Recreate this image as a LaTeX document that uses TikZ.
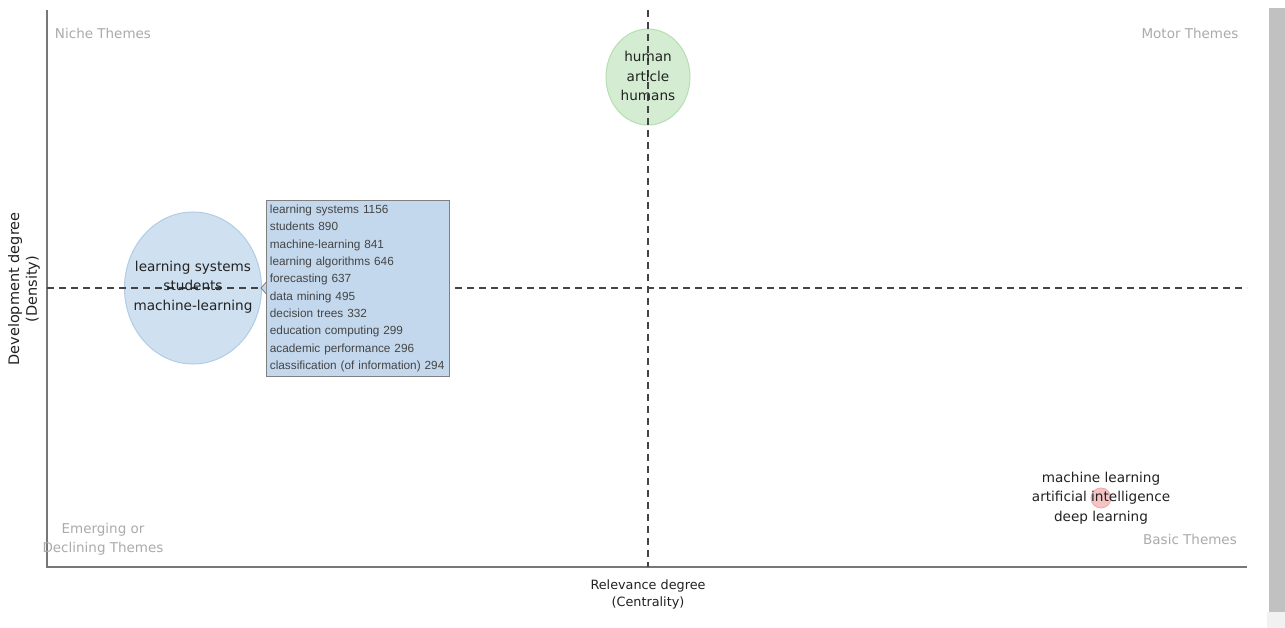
\documentclass[tikz,border=0pt]{standalone}
\usepackage{fontspec}
\usetikzlibrary{shapes.geometric}
\setmainfont{DejaVu Sans}
\newfontfamily\tipfont{Liberation Sans}
\definecolor{axisgray}{HTML}{777777}
\definecolor{dashgray}{HTML}{444444}
\definecolor{quadgray}{HTML}{ABABAB}
\definecolor{labelink}{HTML}{222222}
\definecolor{greenfill}{HTML}{D4EDD2}
\definecolor{greenline}{HTML}{B6DEB1}
\definecolor{bluefill}{HTML}{CFE0F0}
\definecolor{blueline}{HTML}{B1CCE4}
\definecolor{tipfill}{HTML}{C4D8ED}
\definecolor{tipline}{HTML}{808080}
\definecolor{tipink}{HTML}{444444}
\definecolor{redfill}{HTML}{F4C3C3}
\definecolor{redline}{HTML}{EFA9A9}
\definecolor{scrollbar}{HTML}{C1C1C1}
\definecolor{scrolltrack}{HTML}{F1F1F1}
\tikzset{
  axisline/.style={draw=axisgray, line width=1.4pt},
  quadline/.style={draw=dashgray, line width=1.4pt, dash pattern=on 7pt off 5pt},
  quadlabel/.style={text=quadgray, font=\fontsize{13.5}{19}\selectfont, align=center, inner sep=0pt},
  clusterlabel/.style={text=labelink, font=\fontsize{13.6}{19.5}\selectfont, align=center, inner sep=0pt},
  axislabel/.style={text=labelink, font=\fontsize{12.8}{17}\selectfont, align=center, inner sep=0pt},
  tipbox/.style={fill=tipfill, draw=tipline, line width=0.8pt, text=tipink,
    font=\tipfont\fontsize{11.8}{17.3}\selectfont, align=left, inner sep=3pt,
    minimum width=183pt, minimum height=176pt, text width=176pt},
}
\begin{document}
\begin{tikzpicture}[x=1pt,y=-1pt]
\useasboundingbox (0,0) rectangle (1285,628);
\fill[white] (0,0) rectangle (1285,628);
% scrollbar
\fill[scrolltrack] (1267,612) rectangle (1285,628);
\fill[scrollbar] (1269,8) rectangle (1285,612);
% coordinates
\coordinate (top) at (47,10);
\coordinate (origin) at (47,567);
\coordinate (right) at (1247,567);
\coordinate (vtop) at (648,10);
\coordinate (vbot) at (648,567);
\coordinate (hleft) at (47,288);
\coordinate (hright) at (1247,288);
% bubbles
\node[ellipse, minimum width=84pt, minimum height=96pt, fill=greenfill, draw=greenline, line width=1pt, inner sep=0pt] (green) at (648,77) {};
\node[ellipse, minimum width=137pt, minimum height=152pt, fill=bluefill, draw=blueline, line width=1pt, inner sep=0pt] (blue) at (193,288) {};
\node[circle, minimum size=20pt, fill=redfill, draw=redline, line width=0.8pt, inner sep=0pt] (red) at (1101,498) {};
% axes
\draw[axisline] (top) -- (origin) -- (right);
% quadrant dividers
\draw[quadline] (vtop) -- (vbot);
\draw[quadline] (hleft) -- (hright);
% cluster labels
\node[clusterlabel] (greenlabel) at (648,76) {human\\article\\humans};
\node[clusterlabel] (bluelabel) at (193,287) {learning systems\\students\\machine-learning};
\node[clusterlabel] (redlabel) at (1101,498) {machine learning\\artificial intelligence\\deep learning};
% tooltip
\node[tipbox, anchor=north west] (tip) at (266,200) {learning systems 1156\\students 890\\machine-learning 841\\learning algorithms 646\\forecasting 637\\data mining 495\\decision trees 332\\education computing 299\\academic performance 296\\classification (of information) 294};
\fill[tipfill] (tip.west |- 0,282) -- ([xshift=-5pt]tip.west |- 0,288) -- (tip.west |- 0,294) -- cycle;
\draw[tipline, line width=0.8pt] ([xshift=0.4pt]tip.west |- 0,282) -- ([xshift=-5pt]tip.west |- 0,288) -- ([xshift=0.4pt]tip.west |- 0,294);
% quadrant labels
\node[quadlabel] (niche) at (103,33) {Niche Themes};
\node[quadlabel] (motor) at (1190,33) {Motor Themes};
\node[quadlabel] (emerging) at (103,539) {Emerging or\\Declining Themes};
\node[quadlabel] (basic) at (1190,539) {Basic Themes};
% axis labels
\node[axislabel] (xlabel) at (648,594) {Relevance degree\\(Centrality)};
\node[axislabel, font=\fontsize{14.5}{17.5}\selectfont, rotate=90] (ylabel) at (24,289) {Development degree\\(Density)};
\end{tikzpicture}
\end{document}
